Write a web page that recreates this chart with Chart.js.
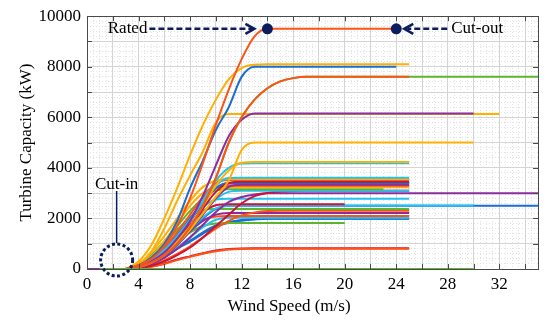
<!DOCTYPE html>
<html>
<head>
<meta charset="utf-8">
<script src="https://cdn.jsdelivr.net/npm/chart.js@4.4.1/dist/chart.umd.min.js"></script>
<style>
    html, body { margin: 0; padding: 0; background: #fff; }
    #wrap { width: 550px; height: 322px; }
</style>
</head>
<body>
<div id="wrap"><canvas id="chart" width="550" height="322"></canvas></div>
<script>
// wind speeds (m/s) the curve values below are read at
const windSpeeds = [3, 4, 5, 6, 7, 8, 9, 10, 11, 12, 13, 14, 15, 16, 17];

// turbine power curves (kW), plateau is held until cut-out
const p9500 = [0, 150, 400, 900, 1700, 2800, 4200, 5700, 7100, 8300, 9200, 9500];
const p8000 = [0, 150, 450, 1000, 1900, 3200, 4300, 5500, 6400, 7600, 8000];
const p8100 = [0, 300, 950, 2000, 3200, 4500, 5700, 6700, 7500, 7950, 8080, 8100];
const p7600 = [0, 80, 250, 550, 1000, 1650, 2500, 3600, 5000, 6000, 6700, 7150, 7420, 7550, 7600];
const p6150 = [0, 100, 300, 650, 1200, 1900, 2900, 4100, 5250, 5900, 6150];
const p6130 = [0, 200, 700, 1600, 2700, 3700, 4650, 5800, 6130];
const p5000 = [0, 80, 250, 550, 1000, 1550, 2200, 2850, 3500, 4700, 5000];
const p4230 = [0, 80, 250, 600, 1100, 1700, 2500, 3300, 3900, 4200, 4230];
const p4180 = [0, 100, 300, 700, 1200, 1900, 2700, 3500, 4000, 4170, 4180];
const p3610 = [0, 100, 350, 750, 1300, 1950, 2650, 3300, 3600, 3610];
const p3560 = [0, 200, 650, 1300, 2000, 2700, 3250, 3500, 3560];
const p3520 = [0, 120, 400, 850, 1450, 2150, 2850, 3400, 3520];
const p3455 = [0, 80, 280, 650, 1150, 1750, 2400, 3050, 3400, 3455];
const p3400 = [0, 100, 380, 800, 1350, 2000, 2650, 3200, 3400];
const p3380 = [0, 90, 300, 700, 1250, 1900, 2600, 3200, 3380];
const p3330 = [0, 60, 220, 520, 950, 1500, 2150, 2800, 3250, 3330];
const p3290 = [0, 100, 330, 750, 1300, 1950, 2650, 3200, 3290];
const p3230 = [0, 150, 500, 1100, 1800, 2500, 3000, 3230];
const p3155 = [0, 150, 550, 1100, 1700, 2300, 2800, 3100, 3155];
const p3093 = [0, 70, 250, 600, 1050, 1600, 2200, 2750, 3050, 3093];
const p3090 = [0, 40, 130, 300, 550, 850, 1250, 1700, 2150, 2600, 2880, 3010, 3060, 3090, 3093];
const p3000 = [0, 60, 200, 450, 800, 1250, 1750, 2250, 2650, 2850, 2950, 3000];
const p2781 = [0, 100, 350, 800, 1350, 1950, 2450, 2750, 2781];
const p2560 = [0, 90, 300, 700, 1200, 1750, 2250, 2520, 2560];
const p2510 = [0, 80, 280, 620, 1050, 1550, 2050, 2400, 2510];
const p2500 = [0, 70, 250, 580, 1000, 1500, 2000, 2380, 2500];
const p2370 = [0, 150, 500, 1000, 1550, 2050, 2330, 2370];
const p2300 = [0, 40, 150, 350, 600, 900, 1250, 1600, 1900, 2120, 2240, 2290, 2300];
const p2220 = [0, 80, 280, 620, 1050, 1500, 1900, 2150, 2220];
const p2100 = [0, 100, 350, 750, 1200, 1650, 1950, 2080, 2100];
const p2030 = [0, 60, 220, 500, 850, 1250, 1650, 1950, 2030];
const p2000 = [0, 60, 220, 480, 830, 1120, 1450, 1720, 1860, 1940, 1980, 2000];
const p1990 = [0, 50, 200, 450, 800, 1080, 1400, 1680, 1830, 1910, 1960, 1990];
const p1820 = [0, 100, 330, 700, 1100, 1450, 1700, 1800, 1820];
const p820 = [0, 30, 100, 220, 380, 500, 620, 730, 790, 815, 820];
const p800 = [0, 30, 90, 200, 350, 480, 600, 700, 770, 795, 800];

// drawn top first
const curves = [p9500, p8000, p8100, p7600, p7600, p6150, p6130, p5000, p4230, p4180,
    p3610, p3560, p3520, p3455, p3400, p3380, p3330, p3290, p3230, p3155,
    p3093, p3090, p3000, p2781, p2560, p2510, p2500, p2370, p2300, p2220,
    p2100, p2030, p1820, p2000, p1990, p800, p820];
const cutOutSpeeds = [24, 24, 25, 25, 35, 30, 32, 30, 25, 25,
    25, 25, 25, 25, 25, 25, 25, 25, 25, 23,
    25, 25, 35, 25, 20, 30, 35, 25, 25, 25,
    25, 25, 20, 25, 25, 25, 25];
const curveColors = ['orange', 'blue', 'yellow', 'orange', 'green', 'purple', 'yellow', 'yellow', 'yellow', 'cyan',
    'cyan', 'yellow', 'orange', 'red', 'blue', 'purple', 'purple', 'orange', 'yellow', 'green',
    'cyan', 'red', 'purple', 'cyan', 'red', 'cyan', 'blue', 'green', 'orange', 'purple',
    'orange', 'cyan', 'green', 'blue', 'blue', 'orange', 'red'];

// idle parts on the zero line
const idleSpeeds = [1, 30];
const idlePurpleSpeeds = [0, 1];

// rated and cut-out markers
const markerSpeeds = [14, 24];
const markerPower = [9500, 9500];
const cutInSpeed = 2.3;

const palette = {
    blue: '#1a6fce',
    orange: '#ff5316',
    yellow: '#ffb000',
    purple: '#8b2c9f',
    green: '#5cb531',
    cyan: '#22c3f2',
    red: '#cc1237'
};
const navy = '#0c1d5e';
const serif = "'Liberation Serif', 'Times New Roman', serif";

function curvePoints(values, cutOut) {
    const pts = values.map((p, i) => ({ x: windSpeeds[i], y: p }));
    pts.push({ x: cutOut, y: values[values.length - 1] });
    return pts;
}

const datasets = [];
datasets.push({
    label: 'markers',
    data: markerSpeeds.map((s, i) => ({ x: s, y: markerPower[i] })),
    showLine: false,
    pointRadius: 5.5,
    pointBackgroundColor: navy,
    pointBorderColor: navy,
    pointBorderWidth: 0
});
datasets.push({
    label: 'idle',
    data: idleSpeeds.map(s => ({ x: s, y: 0 })),
    borderColor: palette.green,
    borderWidth: 2,
    pointRadius: 0
});
datasets.push({
    label: 'idle2',
    data: idlePurpleSpeeds.map(s => ({ x: s, y: 0 })),
    borderColor: palette.purple,
    borderWidth: 2,
    pointRadius: 0
});
curves.forEach((c, i) => {
    datasets.push({
        label: 'T' + (i + 1),
        data: curvePoints(c, cutOutSpeeds[i]),
        borderColor: palette[curveColors[i]],
        borderWidth: 2,
        pointRadius: 0,
        cubicInterpolationMode: 'monotone'
    });
});

const overlay = {
    id: 'overlay',
    afterDraw(chart) {
        const { ctx, chartArea: a } = chart;
        const x = chart.scales.x;
        const y = chart.scales.y;
        ctx.save();

        // inward tick marks
        ctx.strokeStyle = '#4a4a4a';
        ctx.lineWidth = 1;
        ctx.beginPath();
        for (let v = 2; v < 35; v += 2) {
            const px = Math.round(x.getPixelForValue(v)) + 0.5;
            ctx.moveTo(px, a.bottom);
            ctx.lineTo(px, a.bottom - 5);
            ctx.moveTo(px, a.top);
            ctx.lineTo(px, a.top + 5);
        }
        for (let v = 1000; v < 10000; v += 1000) {
            const py = Math.round(y.getPixelForValue(v)) + 0.5;
            ctx.moveTo(a.left, py);
            ctx.lineTo(a.left + 5, py);
            ctx.moveTo(a.right, py);
            ctx.lineTo(a.right - 5, py);
        }
        ctx.stroke();

        ctx.font = '17px ' + serif;
        ctx.fillStyle = '#000';

        // axis titles
        ctx.textAlign = 'center';
        ctx.textBaseline = 'alphabetic';
        ctx.fillText('Wind Speed (m/s)', a.left + (a.right - a.left) * 0.448, 311);
        ctx.save();
        ctx.translate(31, (a.top + a.bottom) / 2);
        ctx.rotate(-Math.PI / 2);
        ctx.fillText('Turbine Capacity (kW)', 0, 0);
        ctx.restore();

        // rated / cut-out arrows
        const rx = x.getPixelForValue(markerSpeeds[0]);
        const cx = x.getPixelForValue(markerSpeeds[1]);
        const my = y.getPixelForValue(markerPower[0]);
        ctx.strokeStyle = navy;
        ctx.lineWidth = 2.5;
        ctx.setLineDash([6, 3]);
        ctx.beginPath();
        ctx.moveTo(rx - 118, my);
        ctx.lineTo(rx - 15, my);
        ctx.moveTo(cx + 51, my);
        ctx.lineTo(cx + 11, my);
        ctx.stroke();
        ctx.setLineDash([]);
        ctx.beginPath();
        ctx.moveTo(rx - 22, my - 5);
        ctx.lineTo(rx - 13, my);
        ctx.lineTo(rx - 22, my + 5);
        ctx.moveTo(cx + 17, my - 5);
        ctx.lineTo(cx + 8, my);
        ctx.lineTo(cx + 17, my + 5);
        ctx.stroke();

        ctx.textBaseline = 'middle';
        ctx.textAlign = 'right';
        ctx.fillText('Rated', rx - 120, my);
        ctx.textAlign = 'left';
        ctx.fillText('Cut-out', cx + 55, my);

        // cut-in circle
        const ix = x.getPixelForValue(cutInSpeed);
        const iy = y.getPixelForValue(0) - 9;
        ctx.lineWidth = 3;
        ctx.setLineDash([3, 2.4]);
        ctx.beginPath();
        ctx.arc(ix, iy, 16, 0, Math.PI * 2);
        ctx.stroke();
        ctx.setLineDash([]);
        ctx.lineWidth = 1.5;
        ctx.beginPath();
        ctx.moveTo(ix, iy - 17);
        ctx.lineTo(ix, iy - 69);
        ctx.stroke();
        ctx.textAlign = 'center';
        ctx.textBaseline = 'alphabetic';
        ctx.fillText('Cut-in', ix, iy - 71);

        ctx.restore();
    }
};

Chart.defaults.font.family = serif;
Chart.defaults.font.size = 17;
Chart.defaults.color = '#000';

new Chart(document.getElementById('chart'), {
    type: 'line',
    data: { datasets },
    options: {
        responsive: false,
        devicePixelRatio: 1,
        animation: false,
        layout: { padding: { top: 12, right: 12, left: 0, bottom: 0 } },
        plugins: {
            legend: { display: false },
            tooltip: { enabled: false }
        },
        scales: {
            xMinor: {
                type: 'linear', position: 'top', min: 0, max: 35,
                ticks: { display: false, stepSize: 0.5, autoSkip: false, includeBounds: false },
                grid: { color: '#e2e2e2', drawTicks: false },
                border: { color: '#4a4a4a', dash: [1, 2] },
                afterFit: s => { s.height = 0; }
            },
            yMinor: {
                type: 'linear', position: 'right', min: 0, max: 10000,
                ticks: { display: false, stepSize: 200, autoSkip: false, includeBounds: false },
                grid: { color: '#e2e2e2', drawTicks: false },
                border: { color: '#4a4a4a', dash: [1, 2] },
                afterFit: s => { s.width = 0; }
            },
            x: {
                type: 'linear', position: 'bottom', min: 0, max: 35,
                ticks: {
                    stepSize: 2, autoSkip: false, maxRotation: 0, padding: 5, includeBounds: false,
                    callback: v => (v % 4 === 0 ? v : '')
                },
                grid: { color: '#d4d4d4', drawTicks: false },
                border: { color: '#4a4a4a' },
                afterFit: s => { s.height = 53; }
            },
            y: {
                type: 'linear', position: 'left', min: 0, max: 10000,
                ticks: {
                    stepSize: 1000, autoSkip: false, padding: 6,
                    callback: v => (v % 2000 === 0 ? v : '')
                },
                grid: { color: '#d4d4d4', drawTicks: false },
                border: { color: '#4a4a4a' },
                afterFit: s => { s.width = 87; }
            }
        }
    },
    plugins: [overlay]
});
</script>
</body>
</html>
